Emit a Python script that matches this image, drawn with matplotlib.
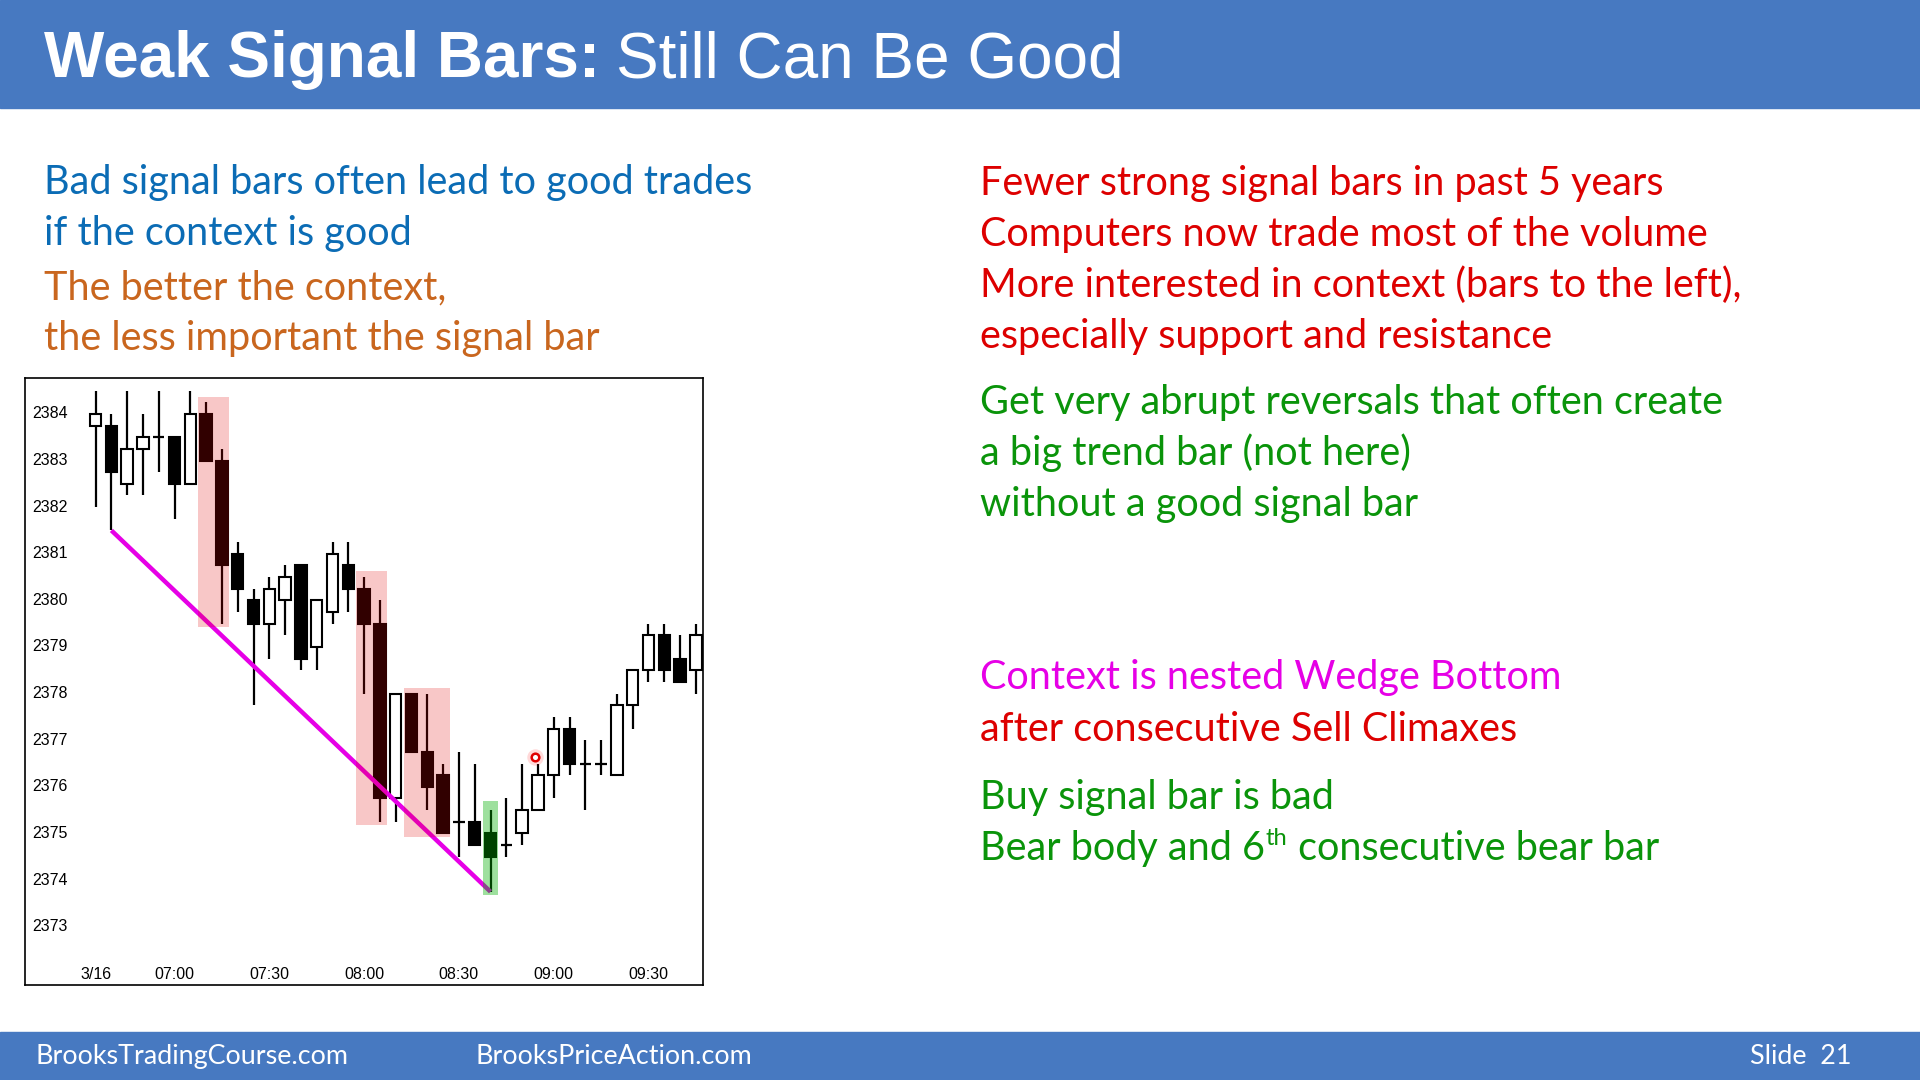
import matplotlib
matplotlib.use("Agg")
import matplotlib.pyplot as plt
from matplotlib.patches import Rectangle

# ---- chart data (5 min bars) ----
opens = [2383.75, 2383.75, 2382.5, 2383.25, 2383.5, 2383.5, 2382.5, 2384.0, 2383.0, 2381.0,
         2380.0, 2379.5, 2380.0, 2380.75, 2379.0, 2379.75, 2380.75, 2380.25, 2379.5, 2375.75,
         2378.0, 2376.75, 2376.25, 2375.25, 2375.25, 2375.0, 2374.75, 2375.0, 2375.5, 2376.25,
         2377.25, 2376.5, 2376.5, 2376.25, 2377.75, 2378.5, 2379.25, 2378.75, 2378.5]
highs = [2384.5, 2384.0, 2384.5, 2384.0, 2384.5, 2383.5, 2384.5, 2384.25, 2383.25, 2381.25,
         2380.25, 2380.5, 2380.75, 2380.75, 2380.0, 2381.25, 2381.25, 2380.5, 2380.0, 2378.0,
         2378.0, 2378.0, 2376.5, 2376.75, 2376.5, 2375.5, 2375.75, 2376.5, 2376.5, 2377.5,
         2377.5, 2377.0, 2377.0, 2378.0, 2378.5, 2379.5, 2379.5, 2379.25, 2379.5]
lows = [2382.0, 2381.5, 2382.25, 2382.25, 2382.75, 2381.75, 2382.5, 2383.0, 2379.5, 2379.75,
        2377.75, 2378.75, 2379.25, 2378.5, 2378.5, 2379.5, 2379.75, 2378.0, 2375.25, 2375.25,
        2376.75, 2375.5, 2375.0, 2374.5, 2374.75, 2373.75, 2374.5, 2374.75, 2375.5, 2375.75,
        2376.25, 2375.5, 2376.25, 2376.25, 2377.25, 2378.25, 2378.25, 2378.25, 2378.0]
closes = [2384.0, 2382.75, 2383.25, 2383.5, 2383.5, 2382.5, 2384.0, 2383.0, 2380.75, 2380.25,
          2379.5, 2380.25, 2380.5, 2378.75, 2380.0, 2381.0, 2380.25, 2379.5, 2375.75, 2378.0,
          2376.75, 2376.0, 2375.0, 2375.25, 2374.75, 2374.5, 2374.75, 2375.5, 2376.25, 2377.25,
          2376.5, 2376.5, 2376.5, 2377.75, 2378.5, 2379.25, 2378.5, 2378.25, 2379.25]

time_ticks = [0, 5, 11, 17, 23, 29, 35]
time_labels = ["3/16", "07:00", "07:30", "08:00", "08:30", "09:00", "09:30"]
price_ticks = [2384, 2383, 2382, 2381, 2380, 2379, 2378, 2377, 2376, 2375, 2374, 2373]

# highlighted bar groups
red_groups = [(7, 8), (17, 18), (20, 22)]
signal_bar = 25
wedge_from, wedge_to = 1, 25        # trend line from bar low to bar low
cursor_x, cursor_y = 27.8, 2376.65  # red pointer mark

BLUE = "#4779C1"
TXT_BLUE = "#0B6CB5"
ORANGE = "#C9661E"
RED = "#DD0000"
GREEN = "#0A940A"
MAGENTA = "#E600E6"
BODY = ["Lato", "DejaVu Sans"]
ARIAL = ["Liberation Sans", "DejaVu Sans"]

W, H = 1920, 1080
fig = plt.figure(figsize=(19.2, 10.8), dpi=100)
fig.patch.set_facecolor("white")

# header / footer bands
fig.add_artist(Rectangle((0, 1 - 108 / H), 1, 108 / H, transform=fig.transFigure,
                         color=BLUE, zorder=0))
fig.add_artist(Rectangle((0, 0), 1, 48 / H, transform=fig.transFigure,
                         color=BLUE, zorder=0))


def put(x, y, s, color, size, family=BODY, weight="normal"):
    return fig.text(x / W, 1 - y / H, s, color=color, fontsize=size, family=family,
                    weight=weight, va="baseline", ha="left")


renderer = fig.canvas.get_renderer()


def after(t, x_gap=0):
    bb = t.get_window_extent(renderer=renderer)
    return bb.x1 + x_gap


t = put(44, 77, "Weak Signal Bars:", "white", 46, family=ARIAL, weight="bold")
put(after(t, 16), 77, "Still Can Be Good", "white", 46, family=ARIAL)

fs = 28.5
put(44, 194, "Bad signal bars often lead to good trades", TXT_BLUE, fs)
put(44, 245, "if the context is good", TXT_BLUE, fs)
put(44, 299, "The better the context,", ORANGE, fs)
put(44, 350, "the less important the signal bar", ORANGE, fs)

rx = 980
put(rx, 195, "Fewer strong signal bars in past 5 years", RED, fs)
put(rx, 246, "Computers now trade most of the volume", RED, fs)
put(rx, 297, "More interested in context (bars to the left),", RED, fs)
put(rx, 348, "especially support and resistance", RED, fs)
put(rx, 414, "Get very abrupt reversals that often create", GREEN, fs)
put(rx, 465, "a big trend bar (not here)", GREEN, fs)
put(rx, 516, "without a good signal bar", GREEN, fs)
put(rx, 689, "Context is nested Wedge Bottom", MAGENTA, fs)
put(rx, 741, "after consecutive Sell Climaxes", RED, fs)
put(rx, 809, "Buy signal bar is bad", GREEN, fs)
t = put(rx, 860, "Bear body and 6", GREEN, fs)
t2 = put(after(t, 1), 845, "th", GREEN, fs * 0.6)
put(after(t2, 0), 860, " consecutive bear bar", GREEN, fs)

put(35, 1064, "BrooksTradingCourse.com", "white", 19.4)
put(475, 1064, "BrooksPriceAction.com", "white", 19.4)
fig.text(1851 / W, 1 - 1064 / H, "Slide  21", color="white", fontsize=19.4,
         family=BODY, va="baseline", ha="right")

# ---- candlestick chart ----
ax = fig.add_axes([24.5 / W, 1 - 984.5 / H, (703 - 24.5) / W, (984.5 - 378) / H])
n = len(opens)
xs = list(range(n))
ax.vlines(xs, lows, highs, color="black", lw=1.6, zorder=2)
bw = 0.72
for i in xs:
    o, c = opens[i], closes[i]
    if o == c:
        ax.hlines(o, i - bw / 2, i + bw / 2, color="black", lw=1.6, zorder=3)
    else:
        ax.bar(i, abs(c - o), bottom=min(o, c), width=bw,
               color="white" if c > o else "black", edgecolor="black", lw=1.5, zorder=3)

ax.plot([wedge_from, wedge_to], [lows[wedge_from], lows[wedge_to]], color=MAGENTA,
        lw=3.2, solid_capstyle="butt", zorder=4)

for a, b in red_groups:
    lo = min(lows[a:b + 1]) - 0.07
    hi = max(highs[a:b + 1]) + 0.12
    ax.add_patch(Rectangle((a - 0.5, lo), b - a + 0.95, hi - lo, color="#E00000",
                           alpha=0.22, lw=0, zorder=5))
lo = lows[signal_bar] - 0.07
hi = highs[signal_bar] + 0.2
ax.add_patch(Rectangle((signal_bar - 0.5, lo), 0.95, hi - lo, color="#00B000",
                       alpha=0.38, lw=0, zorder=5))

ax.scatter([cursor_x], [cursor_y], s=140, color="#FF0000", alpha=0.15, lw=0, zorder=6)
ax.scatter([cursor_x], [cursor_y], s=30, facecolor="white", edgecolor="#E00000",
           lw=1.8, zorder=7)

ax.set_xlim(-4.5, 38.45)
ax.set_ylim(2371.76, 2384.77)
ax.set_xticks([])
ax.set_yticks([])
for sp in ax.spines.values():
    sp.set_linewidth(1.2)

for p in price_ticks:
    ax.text(0.0115, p, str(p), transform=ax.get_yaxis_transform(), ha="left",
            va="center", fontsize=11.5, family=ARIAL)
for i, lab in zip(time_ticks, time_labels):
    ax.text(i, 0.016, lab, transform=ax.get_xaxis_transform(), ha="center",
            va="center", fontsize=11.5, family=ARIAL)

fig.savefig("out.png", dpi=100)
